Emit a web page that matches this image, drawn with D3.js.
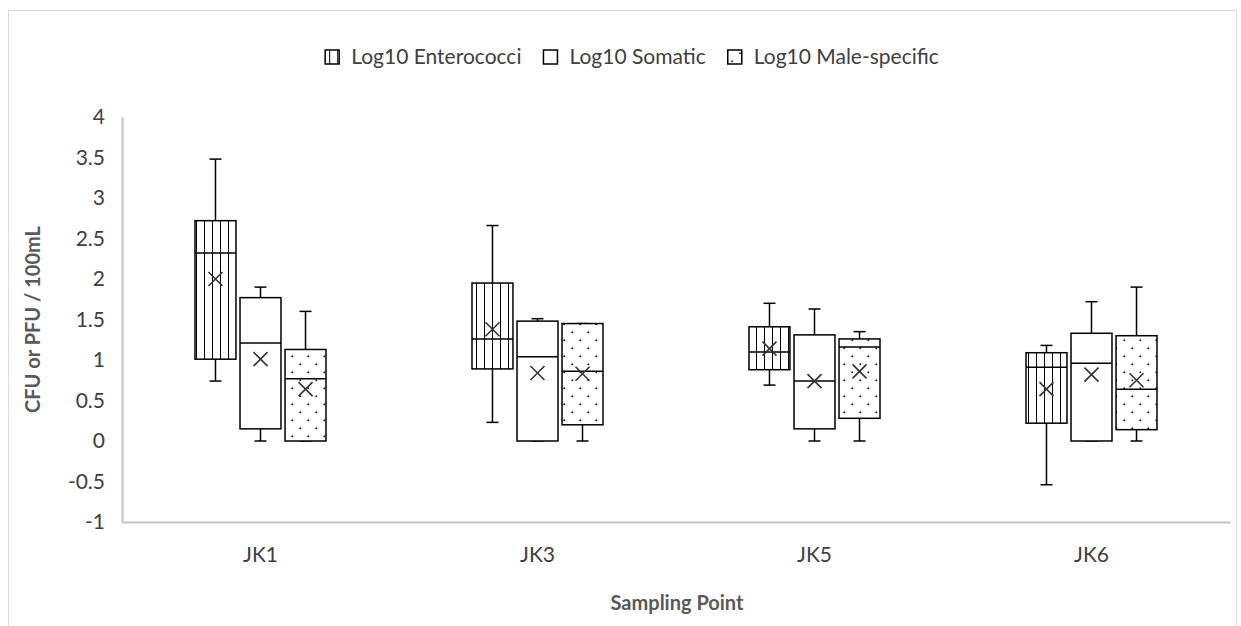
<!DOCTYPE html>
<html>
<head>
<meta charset="utf-8">
<script src="https://cdn.jsdelivr.net/npm/d3@7"></script>
<style>
  body { margin: 0; background: #fff; }
  text { font-family: Lato, "Open Sans", sans-serif; }
</style>
</head>
<body>
<div id="chart"></div>
<script>
!(function (d3) {

var categories = ["JK1", "JK3", "JK5", "JK6"];
var series = ["Log10 Enterococci", "Log10 Somatic", "Log10 Male-specific"];
var yTicks = [-1, -0.5, 0, 0.5, 1, 1.5, 2, 2.5, 3, 3.5, 4];

// per series, one value per sampling point
var enteroMin    = [0.74, 0.23, 0.69, -0.54];
var enteroQ1     = [1.01, 0.89, 0.88, 0.22];
var enteroMedian = [2.32, 1.26, 1.10, 0.91];
var enteroQ3     = [2.72, 1.95, 1.41, 1.09];
var enteroMax    = [3.48, 2.66, 1.70, 1.18];
var enteroMean   = [2.00, 1.38, 1.14, 0.64];

var somaticMin    = [0.00, 0.00, 0.00, 0.00];
var somaticQ1     = [0.15, 0.00, 0.15, 0.00];
var somaticMedian = [1.21, 1.04, 0.74, 0.96];
var somaticQ3     = [1.77, 1.48, 1.31, 1.33];
var somaticMax    = [1.90, 1.51, 1.63, 1.72];
var somaticMean   = [1.01, 0.84, 0.74, 0.82];

var maleMin    = [0.00, 0.00, 0.00, 0.00];
var maleQ1     = [0.00, 0.20, 0.28, 0.14];
var maleMedian = [0.77, 0.86, 1.16, 0.64];
var maleQ3     = [1.13, 1.45, 1.26, 1.30];
var maleMax    = [1.60, 1.45, 1.35, 1.90];
var maleMean   = [0.64, 0.83, 0.86, 0.75];

var fills = ["url(#vlines)", "#fff", "url(#dots)"];

var stats = [
  [enteroMin, enteroQ1, enteroMedian, enteroQ3, enteroMax, enteroMean],
  [somaticMin, somaticQ1, somaticMedian, somaticQ3, somaticMax, somaticMean],
  [maleMin, maleQ1, maleMedian, maleQ3, maleMax, maleMean]
];

var boxes = [];
series.forEach(function (s, si) {
  categories.forEach(function (c, ci) {
    var a = stats[si];
    boxes.push({series: s, si: si, cat: c,
      min: a[0][ci], q1: a[1][ci], median: a[2][ci], q3: a[3][ci], max: a[4][ci], mean: a[5][ci]});
  });
});

var W = 1241, H = 626;
var margin = {top: 117, right: 8, bottom: 104, left: 122};

var svg = d3.select("#chart").append("svg")
    .attr("width", W)
    .attr("height", H);

var defs = svg.append("defs");
var vl = defs.append("pattern")
    .attr("id", "vlines")
    .attr("patternUnits", "userSpaceOnUse")
    .attr("width", 8).attr("height", 8);
vl.append("rect").attr("width", 8).attr("height", 8).attr("fill", "#fff");
vl.append("line").attr("x1", 4.5).attr("x2", 4.5).attr("y1", 0).attr("y2", 8)
    .attr("stroke", "#000").attr("stroke-width", 1);

var dp = defs.append("pattern")
    .attr("id", "dots")
    .attr("patternUnits", "userSpaceOnUse")
    .attr("width", 16).attr("height", 16);
dp.append("rect").attr("width", 16).attr("height", 16).attr("fill", "#fff");
dp.append("rect").attr("x", 3.5).attr("y", 3.5).attr("width", 1.6).attr("height", 1.6).attr("fill", "#000");
dp.append("rect").attr("x", 11.5).attr("y", 11.5).attr("width", 1.6).attr("height", 1.6).attr("fill", "#000");

// chart area border
svg.append("rect")
    .attr("x", 8.5).attr("y", 10.5)
    .attr("width", 1228).attr("height", 640)
    .attr("fill", "none")
    .attr("stroke", "#d9d9d9");

var x = d3.scaleBand()
    .domain(categories)
    .range([margin.left, W - margin.right - 3]);

var inner = d3.scaleBand()
    .domain(series)
    .range([0, 131])
    .paddingInner(0.09);

var y = d3.scaleLinear()
    .domain([-1, 4])
    .range([H - margin.bottom, margin.top]);

var xAxis = d3.axisBottom(x).tickSize(0).tickPadding(25);
var yAxis = d3.axisLeft(y).tickValues(yTicks).tickSize(0).tickPadding(17)
    .tickFormat(function (d) { return d; });

var gy = svg.append("g")
    .attr("transform", "translate(" + margin.left + ",0)")
    .call(yAxis);
gy.select(".domain").attr("stroke", "#c4c4c4").attr("stroke-width", 2);
gy.selectAll("text").attr("fill", "#404040").style("font-size", "21px");

var gx = svg.append("g")
    .attr("transform", "translate(0," + y(-1) + ")")
    .call(xAxis);
gx.select(".domain").attr("stroke", "#c4c4c4").attr("stroke-width", 2);
gx.selectAll("text").attr("fill", "#404040").style("font-size", "21px");

svg.append("text")
    .attr("transform", "translate(40," + y(1.5) + ") rotate(-90)")
    .style("text-anchor", "middle")
    .style("font-size", "20px")
    .style("font-weight", "bold")
    .attr("fill", "#595959")
    .text("CFU or PFU / 100mL");

svg.append("text")
    .attr("x", 677)
    .attr("y", 610)
    .style("text-anchor", "middle")
    .style("font-size", "20px")
    .style("font-weight", "bold")
    .attr("fill", "#595959")
    .text("Sampling Point");

function bx(d) {
  return x(d.cat) + (x.bandwidth() - 131) / 2 + inner(d.series);
}
var bw = inner.bandwidth();

var g = svg.selectAll(".box")
    .data(boxes)
  .enter().append("g")
    .attr("class", "box");

// whiskers
g.append("line")
    .attr("x1", function (d) { return bx(d) + bw / 2; })
    .attr("x2", function (d) { return bx(d) + bw / 2; })
    .attr("y1", function (d) { return y(d.max); })
    .attr("y2", function (d) { return y(d.min); })
    .attr("stroke", "#000").attr("stroke-width", 1.5);

g.selectAll(".cap")
    .data(function (d) { return [d.min, d.max].map(function (v) { return {v: v, b: d}; }); })
  .enter().append("line")
    .attr("class", "cap")
    .attr("x1", function (c) { return bx(c.b) + bw / 2 - 6; })
    .attr("x2", function (c) { return bx(c.b) + bw / 2 + 6; })
    .attr("y1", function (c) { return y(c.v); })
    .attr("y2", function (c) { return y(c.v); })
    .attr("stroke", "#000").attr("stroke-width", 1.5);

g.append("rect")
    .attr("x", function (d) { return bx(d); })
    .attr("y", function (d) { return y(d.q3); })
    .attr("width", bw)
    .attr("height", function (d) { return y(d.q1) - y(d.q3); })
    .attr("fill", function (d) { return fills[d.si]; })
    .attr("stroke", "#000").attr("stroke-width", 1.5);

g.append("line")
    .attr("x1", function (d) { return bx(d); })
    .attr("x2", function (d) { return bx(d) + bw; })
    .attr("y1", function (d) { return y(d.median); })
    .attr("y2", function (d) { return y(d.median); })
    .attr("stroke", "#000").attr("stroke-width", 1.5);

// mean marker
g.append("path")
    .attr("d", function (d) {
      var cx = bx(d) + bw / 2, cy = y(d.mean), r = 7;
      return "M" + (cx - r) + "," + (cy - r) + "L" + (cx + r) + "," + (cy + r) +
             "M" + (cx - r) + "," + (cy + r) + "L" + (cx + r) + "," + (cy - r);
    })
    .attr("stroke", "#333").attr("stroke-width", 1.6).attr("fill", "none");

// legend, laid out left to right then centred
var legend = svg.append("g");
var items = legend.selectAll(".legend")
    .data(series)
  .enter().append("g")
    .attr("class", "legend");

items.append("rect")
    .attr("y", -7)
    .attr("width", 14).attr("height", 14)
    .attr("fill", function (d, i) { return fills[i]; })
    .attr("stroke", "#000").attr("stroke-width", 1.5);

items.append("text")
    .attr("x", 26)
    .attr("dy", ".35em")
    .attr("fill", "#404040")
    .style("font-size", "21px")
    .text(function (d) { return d; });

var lx = 0;
items.each(function () {
  var w = 26 + d3.select(this).select("text").node().getComputedTextLength();
  d3.select(this).attr("transform", "translate(" + lx + ",0)");
  lx += w + 22;
});
lx -= 22;
legend.attr("transform", "translate(" + (632 - lx / 2) + ",57)");

})(d3);
</script>
</body>
</html>
